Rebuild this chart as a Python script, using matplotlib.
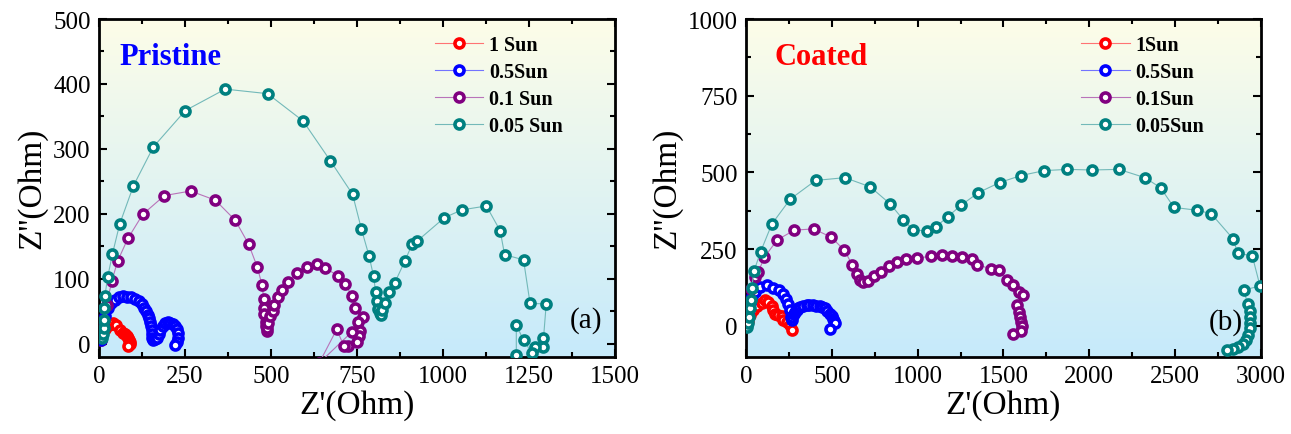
import numpy as np
import matplotlib
matplotlib.use("Agg")
import matplotlib.pyplot as plt
from matplotlib.ticker import MultipleLocator
from matplotlib.colors import to_rgb

plt.rcParams['font.family'] = ['Liberation Serif', 'DejaVu Serif']

# ---- (a) Pristine ----
pr_red_x = [5, 10, 18, 28, 40, 50, 61, 70, 76, 82, 85, 88, 90, 89, 84]
pr_red_y = [5, 14, 22, 28, 32, 28, 21, 17, 15, 11, 9, 6, 3, 0, -3]

pr_blue_x = [5, 8, 12, 18, 26, 35, 47, 58, 71, 82, 92, 104, 115, 124, 132, 138, 142, 146, 149, 152,
             154, 155, 155, 158, 163, 168, 173, 178, 185, 192, 200, 207, 214, 222, 227, 231, 230, 227, 222]
pr_blue_y = [5, 15, 28, 42, 55, 63, 67, 71, 73, 72, 71, 69, 66, 61, 55, 50, 44, 39, 34, 27,
             21, 15, 9, 6, 7, 9, 15, 21, 27, 32, 33, 32, 30, 27, 22, 16, 8, 3, -2]

pr_purple_x = [5, 12, 22, 37, 54, 84, 127, 190, 266, 338, 396, 435, 460, 474, 479, 481, 481, 484, 486, 487,
               489, 492, 497, 505, 510, 520, 533, 550, 575, 604, 633, 658, 694, 716, 735, 745, 767, 752,
               760, 755, 750, 725, 711, 691, 640, 735]
pr_purple_y = [10, 30, 60, 96, 127, 162, 199, 228, 235, 221, 190, 153, 118, 90, 68, 55, 45, 34, 27, 19,
               24, 32, 42, 50, 60, 71, 82, 95, 108, 118, 123, 117, 104, 92, 73, 55, 41, 33,
               19, 12, 2, -3, -3, 22, -30, 18]

pr_teal_x = [10, 12, 14, 15, 15, 17, 25, 39, 60, 100, 158, 251, 367, 490, 593, 672, 737, 763, 785, 798,
             804, 809, 812, 816, 820, 824, 831, 843, 859, 889, 910, 925, 1004, 1055, 1126, 1166, 1179,
             1234, 1253, 1300, 1292, 1290, 1267, 1258, 1234, 1213, 1213]
pr_teal_y = [8, 14, 24, 37, 55, 73, 102, 138, 184, 243, 303, 359, 392, 385, 343, 282, 230, 176, 135, 104,
             80, 66, 54, 47, 44, 52, 63, 79, 93, 127, 153, 158, 194, 206, 212, 174, 137,
             129, 62, 61, 8, -6, -5, -14, 5, 29, -17]

# ---- (b) Coated ----
co_red_x = [3, 10, 22, 40, 62, 91, 111, 130, 150, 159, 169, 188, 208, 217, 237, 256, 266]
co_red_y = [0, 15, 35, 52, 65, 73, 84, 78, 64, 51, 40, 35, 32, 19, 13, 2, -12]

co_blue_x = [3, 6, 12, 22, 35, 52, 82, 120, 159, 194, 213, 233, 247, 256, 260, 266, 270, 278, 285, 295,
             305, 315, 330, 353, 370, 392, 410, 431, 445, 460, 475, 489, 500, 509, 515, 518, 489]
co_blue_y = [0, 20, 45, 75, 98, 111, 127, 133, 125, 116, 103, 86, 71, 51, 29, 19, 30, 40, 46, 52,
             57, 60, 64, 67, 67, 67, 66, 64, 61, 57, 50, 40, 32, 24, 16, 8, -11]

co_purple_x = [3, 8, 15, 28, 50, 72, 108, 182, 282, 394, 497, 574, 619, 645, 662, 681, 712, 743, 784, 832,
               880, 932, 997, 1078, 1140, 1202, 1260, 1315, 1344, 1430, 1475, 1523, 1554, 1590, 1614,
               1578, 1590, 1599, 1604, 1607, 1602, 1556]
co_purple_y = [0, 30, 70, 120, 160, 176, 224, 280, 312, 316, 289, 246, 199, 170, 151, 143, 147, 162, 176, 194,
               208, 217, 221, 227, 230, 227, 224, 219, 199, 186, 181, 149, 133, 111, 100,
               68, 46, 30, 14, -2, -18, -27]

co_teal_x = [5, 14, 20, 23, 27, 33, 47, 85, 151, 258, 406, 576, 724, 841, 916, 975, 1052, 1107, 1176, 1255,
             1353, 1477, 1602, 1738, 1872, 2013, 2172, 2324, 2415, 2493, 2625, 2709, 2838, 2864, 2949,
             2994, 2900, 2922, 2935, 2935, 2935, 2933, 2925, 2910, 2893, 2867, 2838, 2800]
co_teal_y = [-3, 10, 29, 57, 85, 122, 179, 241, 332, 413, 474, 483, 453, 397, 346, 312, 310, 323, 356, 394,
             434, 467, 490, 506, 510, 508, 510, 483, 450, 386, 377, 366, 283, 237, 228,
             130, 117, 70, 50, 29, 10, -8, -30, -47, -60, -68, -74, -77]

colors = ['#ff0000', '#0000ff', '#800080', '#008080']
labels_a = ['1 Sun', '0.5Sun', '0.1 Sun', '0.05 Sun']
labels_b = ['1Sun', '0.5Sun', '0.1Sun', '0.05Sun']


def light(c, f=0.45):
    r = np.array(to_rgb(c))
    return tuple(r + (1 - r) * f)


def gradient_bg(ax):
    top = np.array([253, 253, 232]) / 255
    bot = np.array([198, 234, 251]) / 255
    t = np.linspace(0, 1, 256)[:, None]
    img = (bot * (1 - t) + top * t)[:, None, :]
    ax.imshow(img, extent=[0, 1, 0, 1], transform=ax.transAxes, origin='lower',
              aspect='auto', zorder=0)


def style(ax, xmaj, ymaj, xlim, ylim):
    ax.xaxis.set_major_locator(MultipleLocator(xmaj))
    ax.yaxis.set_major_locator(MultipleLocator(ymaj))
    ax.xaxis.set_minor_locator(MultipleLocator(xmaj / 2))
    ax.yaxis.set_minor_locator(MultipleLocator(ymaj / 2))
    ax.set_xlim(*xlim)
    ax.set_ylim(*ylim)
    ax.tick_params(which='both', direction='in', top=True, right=True, width=1.5)
    ax.tick_params(which='major', length=6, labelsize=18, pad=6)
    ax.tick_params(which='minor', length=3.5)
    for s in ax.spines.values():
        s.set_linewidth(2)
    ax.set_xlabel("Z'(Ohm)", fontsize=24, labelpad=2)
    ax.set_ylabel("Z''(Ohm)", fontsize=24, labelpad=4)


fig = plt.figure(figsize=(12.91, 4.35), dpi=100)
ax1 = fig.add_axes([0.0767, 0.178, 0.3997, 0.776])
ax2 = fig.add_axes([0.5778, 0.178, 0.399, 0.776])

series_a = [(pr_red_x, pr_red_y), (pr_blue_x, pr_blue_y), (pr_purple_x, pr_purple_y), (pr_teal_x, pr_teal_y)]
series_b = [(co_red_x, co_red_y), (co_blue_x, co_blue_y), (co_purple_x, co_purple_y), (co_teal_x, co_teal_y)]

for ax, series, labels in [(ax1, series_a, labels_a), (ax2, series_b, labels_b)]:
    gradient_bg(ax)
    for (x, y), c, lab in zip(series, colors, labels):
        ax.plot(x, y, '-o', color=light(c), lw=0.8, ms=6.5, mec=c, mfc='white', mew=2.6,
                label=lab, zorder=3)
    ax.legend(loc='upper left', frameon=False, prop={'weight': 'bold', 'size': 14.5},
              handlelength=2.4, handletextpad=0.3, labelspacing=0.35, borderpad=0,
              borderaxespad=0, bbox_to_anchor=(0.651, 0.952))

style(ax1, 250, 100, (0, 1500), (-20, 500))
ax1.text(0.04, 0.89, 'Pristine', transform=ax1.transAxes, color='#0000ff', fontsize=22,
         fontweight='bold', va='center', ha='left')
ax1.text(0.975, 0.11, '(a)', transform=ax1.transAxes, fontsize=21, va='center', ha='right')

style(ax2, 500, 250, (0, 3000), (-100, 1000))
ax2.text(0.056, 0.89, 'Coated', transform=ax2.transAxes, color='#ff0000', fontsize=22,
         fontweight='bold', va='center', ha='left')
ax2.text(0.965, 0.105, '(b)', transform=ax2.transAxes, fontsize=21, va='center', ha='right')

fig.savefig('out.png', dpi=100)
